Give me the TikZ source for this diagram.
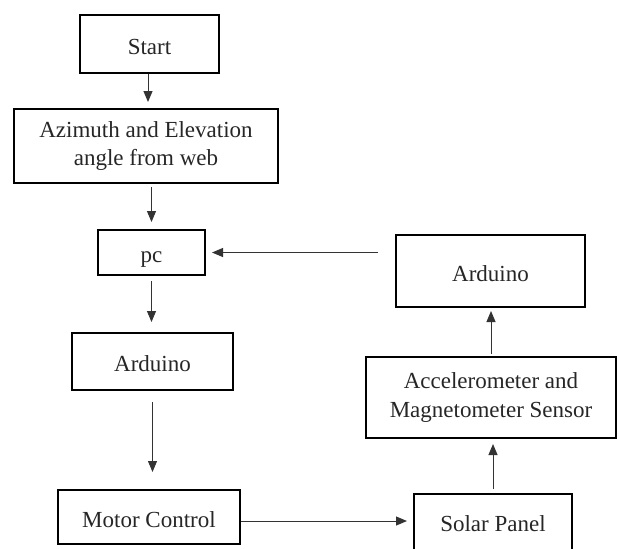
\documentclass[tikz,border=0pt]{standalone}
\usepackage{fontspec}
\setmainfont{Liberation Serif}
\usetikzlibrary{arrows.meta}
\begin{document}
\begin{tikzpicture}[x=0.5pt,y=-0.5pt,
  box/.style={draw=black, line width=1pt, inner sep=0pt, align=center,
    font=\fontsize{11.5}{14.3}\selectfont, text=black!85},
  oneline/.style={text height=10.3pt, text depth=0pt},
  flow/.style={draw=black!80, line width=0.5pt, -{Triangle[length=5.5pt,width=4.5pt]}}]
\useasboundingbox (0,0) rectangle (619,548);
\node[box, oneline, minimum width=69.5pt, minimum height=29pt] (start) at (149.5,44) {Start};
\node[box, minimum width=132pt, minimum height=37pt] (az) at (146,146) {Azimuth and Elevation\\angle from web};
\node[box, oneline, minimum width=53.5pt, minimum height=22.5pt] (pc) at (151.5,252.5) {pc};
\node[box, oneline, minimum width=80.5pt, minimum height=28.5pt] (ard1) at (152.5,361.5) {Arduino};
\node[box, oneline, minimum width=91pt, minimum height=27pt] (motor) at (149,517) {Motor Control};
\node[box, oneline, draw=none, minimum width=78pt, minimum height=26pt] (solar) at (493,521) {Solar Panel};
\draw[line width=1pt] ([yshift=-10pt]solar.south west) -- (solar.north west) -- (solar.north east) -- ([yshift=-10pt]solar.south east);
\node[box, minimum width=125pt, minimum height=40.5pt] (acc) at (491,397.5) {Accelerometer and\\Magnetometer Sensor};
\node[box, oneline, minimum width=94.5pt, minimum height=36pt] (ard2) at (490.5,271) {Arduino};

\draw[flow, shorten >=3pt] ([xshift=-0.75pt]start.south) -- ([xshift=-0.75pt]start.south |- az.north);
\draw[flow, shorten <=1.5pt, shorten >=3.5pt] (az.south -| pc.north) -- (pc.north);
\draw[flow, shorten <=2.5pt, shorten >=5pt] (pc.south) -- (pc.south |- ard1.north);
\draw[flow, shorten <=5.5pt, shorten >=8.5pt] (ard1.south) -- (ard1.south |- motor.north);
\draw[flow, shorten >=3.5pt] (solar.west -| motor.east) -- (solar.west);
\draw[flow, shorten <=2.5pt, shorten >=2.5pt] (solar.north) -- (solar.north |- acc.south);
\draw[flow, shorten <=1pt, shorten >=1.5pt] (acc.north) -- (acc.north |- ard2.south);
\draw[flow, shorten <=8.5pt, shorten >=3pt] (ard2.west |- pc.east) -- (pc.east);
\end{tikzpicture}
\end{document}
